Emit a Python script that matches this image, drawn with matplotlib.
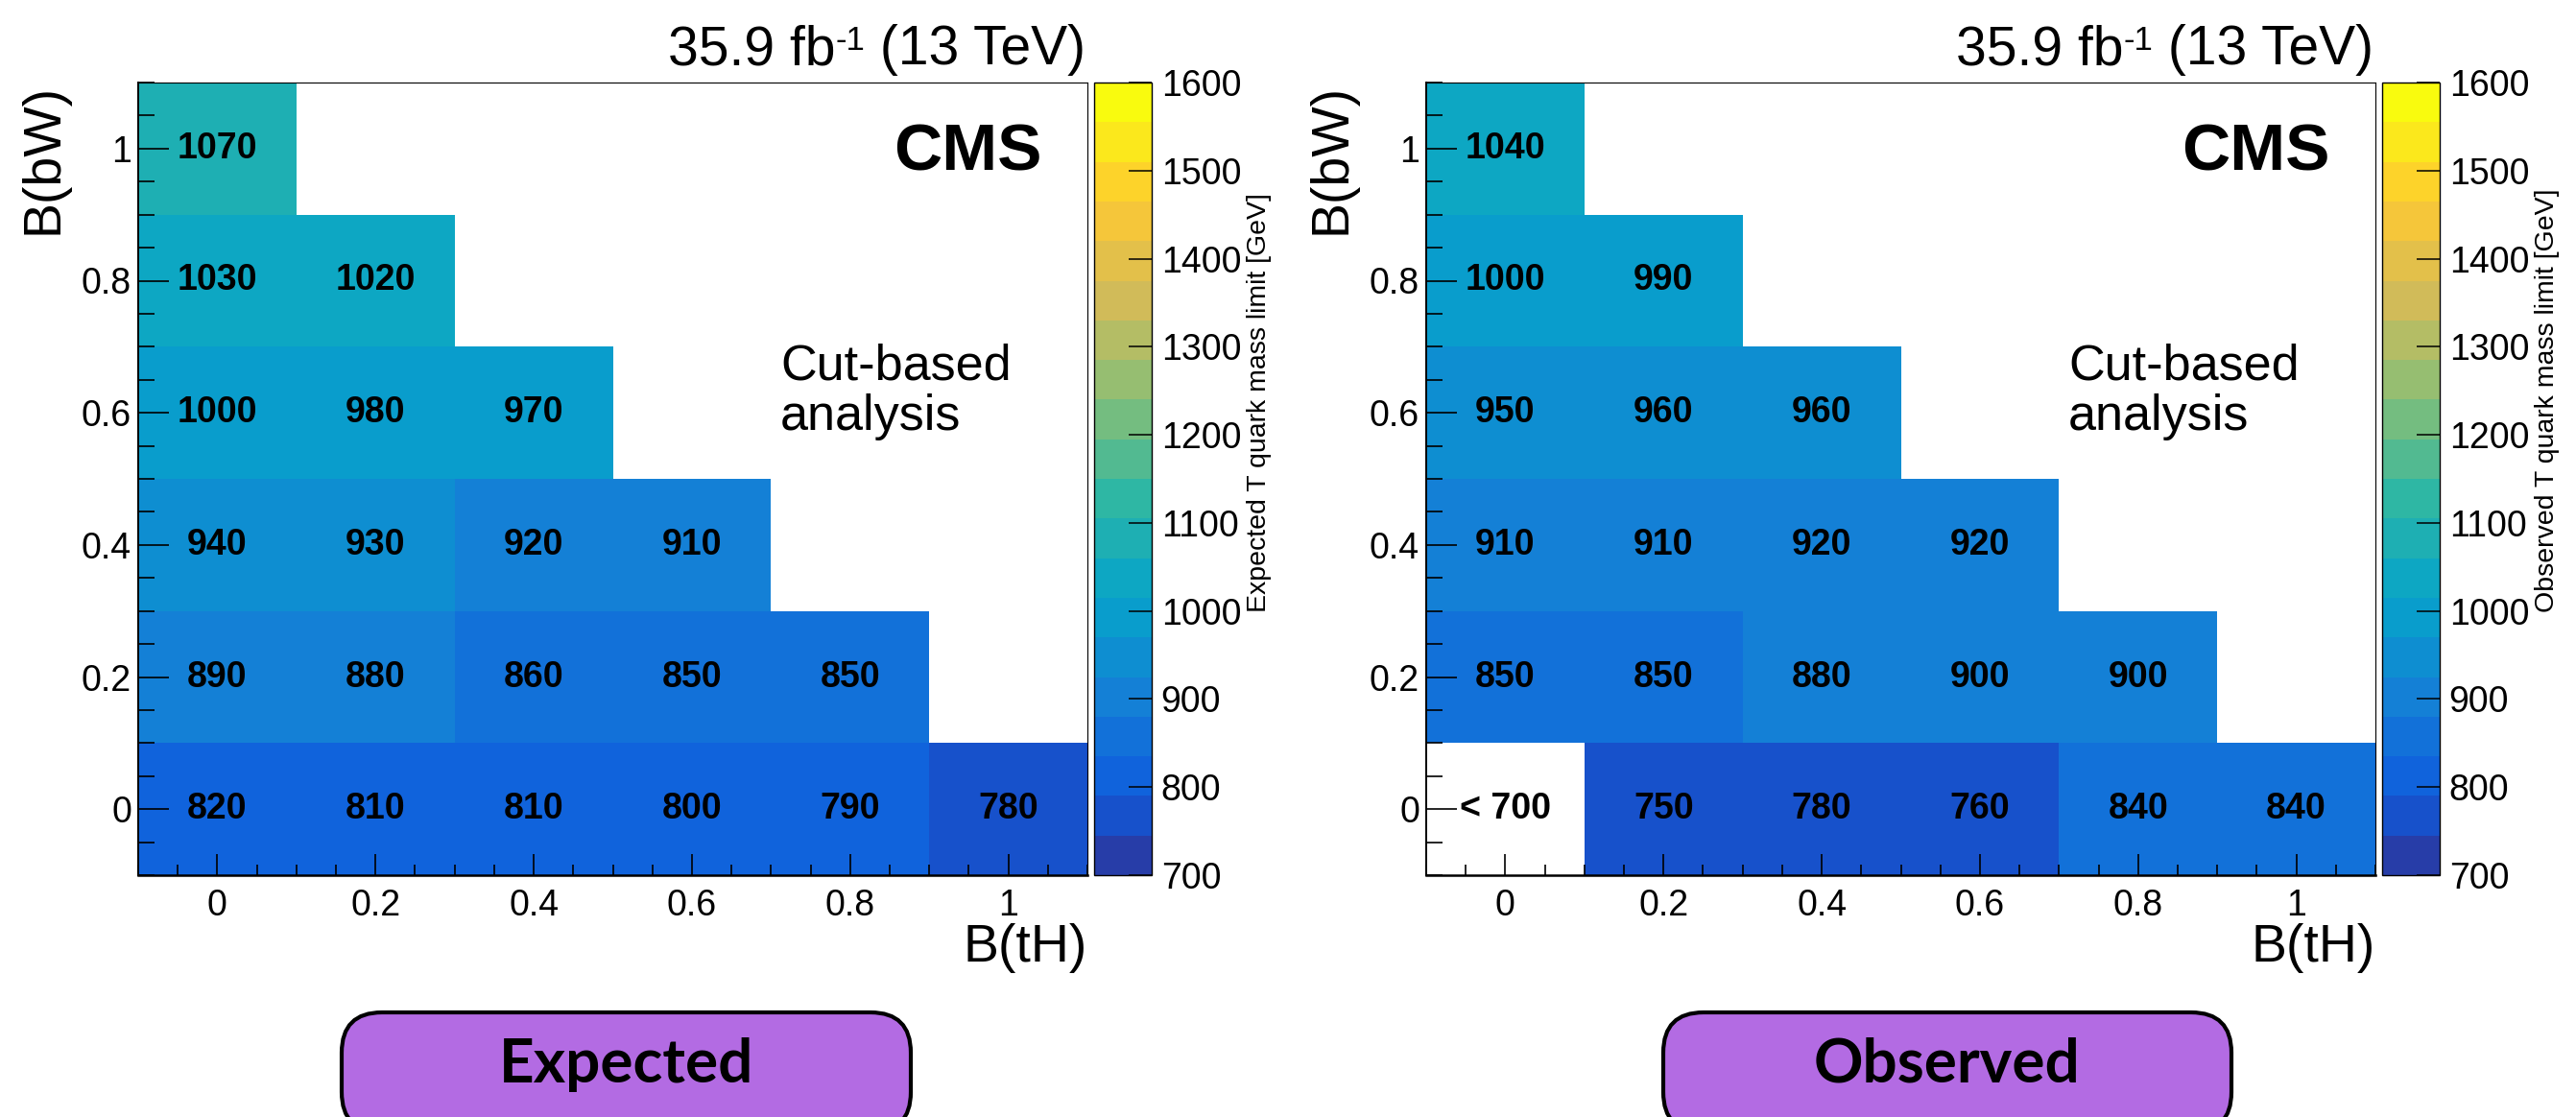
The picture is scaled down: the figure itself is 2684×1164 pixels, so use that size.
import numpy as np
import matplotlib
matplotlib.use("Agg")
import matplotlib.pyplot as plt
from matplotlib import font_manager
from matplotlib.colors import ListedColormap, BoundaryNorm, LinearSegmentedColormap
from matplotlib.cm import ScalarMappable
from matplotlib.patches import FancyBboxPatch
from matplotlib.ticker import FixedLocator, MultipleLocator

plt.rcParams["font.family"] = ["Liberation Sans", "DejaVu Sans"]

# ---- data -------------------------------------------------------------
B_TH = [0.0, 0.2, 0.4, 0.6, 0.8, 1.0]       # x axis: branching fraction to tH
B_BW = [0.0, 0.2, 0.4, 0.6, 0.8, 1.0]       # y axis: branching fraction to bW
TICK_LABELS = ["0", "0.2", "0.4", "0.6", "0.8", "1"]

# expected limits [GeV], one list per B(bW) row, ordered by B(tH)
EXP_BW_00 = [820, 810, 810, 800, 790, 780]
EXP_BW_02 = [890, 880, 860, 850, 850]
EXP_BW_04 = [940, 930, 920, 910]
EXP_BW_06 = [1000, 980, 970]
EXP_BW_08 = [1030, 1020]
EXP_BW_10 = [1070]

# observed limits [GeV]; None = below the lower edge of the scale
OBS_BW_00 = [None, 750, 780, 760, 840, 840]
OBS_BW_02 = [850, 850, 880, 900, 900]
OBS_BW_04 = [910, 910, 920, 920]
OBS_BW_06 = [950, 960, 960]
OBS_BW_08 = [1000, 990]
OBS_BW_10 = [1040]

Z_MIN, Z_MAX, N_CONTOURS = 700, 1600, 20
CBAR_TICKS = list(range(700, 1601, 100))

# ---- figure geometry (pixels) ------------------------------------------
W, H, DPI = 2684, 1164, 100
fig = plt.figure(figsize=(W / DPI, H / DPI), dpi=DPI)
renderer = fig.canvas.get_renderer()


def rect(x0, y0, x1, y1):
    return [x0 / W, 1 - y1 / H, (x1 - x0) / W, (y1 - y0) / H]


def fx(px):
    return px / W


def fy(py):
    return 1 - py / H


def narrow_family():
    for name in ["Liberation Sans Narrow", "Nimbus Sans Narrow", "Arial Narrow"]:
        try:
            font_manager.findfont(font_manager.FontProperties(family=name),
                                  fallback_to_default=False)
            return [name, "Liberation Sans"], 25
        except Exception:
            pass
    return ["Liberation Sans", "DejaVu Sans"], 20.5


NARROW, NARROW_SIZE = narrow_family()

# ---- ROOT "bird" palette, 20 contour bands -----------------------------
stops = [0.0, 0.125, 0.25, 0.375, 0.5, 0.625, 0.75, 0.875, 1.0]
red = [0.2082, 0.0592, 0.0780, 0.0232, 0.1802, 0.5301, 0.8186, 0.9956, 0.9764]
green = [0.1664, 0.3599, 0.5041, 0.6419, 0.7178, 0.7492, 0.7328, 0.7862, 0.9832]
blue = [0.5293, 0.8684, 0.8385, 0.7914, 0.6425, 0.4662, 0.3499, 0.1968, 0.0539]
bird = LinearSegmentedColormap.from_list(
    "bird", list(zip(stops, zip(red, green, blue))), N=255)
band_colors = [bird(int((i + 0.99) * 255 / N_CONTOURS)) for i in range(N_CONTOURS)]
cmap = ListedColormap(band_colors)
levels = np.linspace(Z_MIN, Z_MAX, N_CONTOURS + 1)
norm = BoundaryNorm(levels, N_CONTOURS)

# overlay in pixel coordinates for the labelled boxes
ov = fig.add_axes([0, 0, 1, 1], zorder=-1)
ov.set_xlim(0, W)
ov.set_ylim(H, 0)
ov.axis("off")


def lumi_label(x_right, baseline):
    """'35.9 fb^-1 (13 TeV)' right-aligned at x_right (pixels)."""
    t1 = fig.text(fx(x_right), fy(baseline), " (13 TeV)", fontsize=41,
                  ha="right", va="baseline")
    x1 = t1.get_window_extent(renderer).x0
    t2 = fig.text(x1 / W, fy(baseline - 15), "-1", fontsize=25,
                  ha="right", va="baseline")
    x2 = t2.get_window_extent(renderer).x0
    fig.text(x2 / W, fy(baseline), "35.9 fb", fontsize=41,
             ha="right", va="baseline")


def draw_panel(dx, rows, cbar_title, box_x0, box_x1, box_text):
    ax = fig.add_axes(rect(144 + dx, 86, 1133 + dx, 912))
    cax = fig.add_axes(rect(1140 + dx, 86, 1200 + dx, 912))

    Z = np.full((len(B_BW), len(B_TH)), np.nan)
    for j, row in enumerate(rows):
        for i, v in enumerate(row):
            if v is not None:
                Z[j, i] = v
    edges_x = np.concatenate([[B_TH[0] - 0.1], np.array(B_TH) + 0.1])
    edges_y = np.concatenate([[B_BW[0] - 0.1], np.array(B_BW) + 0.1])
    ax.pcolormesh(edges_x, edges_y, np.ma.masked_invalid(Z),
                  cmap=cmap, norm=norm, shading="flat", antialiased=False)

    for j, row in enumerate(rows):
        for i, v in enumerate(row):
            txt = f"< {Z_MIN}" if v is None else f"{v}"
            ax.text(B_TH[i], B_BW[j], txt, ha="center", va="center",
                    fontsize=27, fontweight="bold", color="black")

    ax.set_xlim(-0.1, 1.1)
    ax.set_ylim(-0.1, 1.1)
    ax.xaxis.set_major_locator(FixedLocator(B_TH))
    ax.yaxis.set_major_locator(FixedLocator(B_BW))
    ax.set_xticklabels(TICK_LABELS)
    ax.set_yticklabels(TICK_LABELS)
    ax.xaxis.set_minor_locator(MultipleLocator(0.05))
    ax.yaxis.set_minor_locator(MultipleLocator(0.05))
    ax.tick_params(axis="both", which="both", direction="in", top=False,
                   right=False, labelsize=27, width=1.2, color="black")
    ax.tick_params(axis="x", which="major", length=16, pad=10)
    ax.tick_params(axis="x", which="minor", length=8)
    ax.tick_params(axis="y", which="major", length=23, pad=5)
    ax.tick_params(axis="y", which="minor", length=12)
    ax.spines["left"].set_linewidth(1.4)
    ax.spines["bottom"].set_linewidth(1.8)
    ax.spines["top"].set_linewidth(0.8)
    ax.spines["right"].set_linewidth(0.8)

    cb = fig.colorbar(ScalarMappable(norm=norm, cmap=cmap), cax=cax,
                      ticks=CBAR_TICKS)
    cb.ax.minorticks_off()
    cb.ax.tick_params(direction="in", length=17, width=1.1, labelsize=27,
                      pad=7, right=True, left=False)
    cb.outline.set_linewidth(1.0)

    # labels and annotations
    lumi_label(1131 + dx, 67)
    fig.text(fx(1086 + dx), fy(178), "CMS", fontsize=50, fontweight="bold",
             ha="right", va="baseline")
    fig.text(fx(813 + dx), fy(395), "Cut-based", fontsize=37.5,
             ha="left", va="baseline")
    fig.text(fx(813 + dx), fy(448), "analysis", fontsize=37.5,
             ha="left", va="baseline")
    fig.text(fx(46 + dx), fy(87), "B(bW)", fontsize=40, rotation=90,
             ha="center", va="top")
    fig.text(fx(1133 + dx), fy(1002), "B(tH)", fontsize=40,
             ha="right", va="baseline")
    fig.text(fx(1312 + dx), fy(638), cbar_title, fontsize=NARROW_SIZE,
             family=NARROW, rotation=90, ha="center", va="bottom")

    box = FancyBboxPatch((box_x0, 1055), box_x1 - box_x0, 125,
                         boxstyle="round,pad=0,rounding_size=42",
                         facecolor="#B36BE3", edgecolor="black", linewidth=3.0)
    ov.add_patch(box)
    ov.text((box_x0 + box_x1) / 2, 1128, box_text, fontsize=46,
            fontweight="bold", family=["Lato", "DejaVu Sans"],
            ha="center", va="baseline")


draw_panel(0, [EXP_BW_00, EXP_BW_02, EXP_BW_04, EXP_BW_06, EXP_BW_08, EXP_BW_10],
           "Expected T quark mass limit [GeV]", 356, 949, "Expected")
draw_panel(1342, [OBS_BW_00, OBS_BW_02, OBS_BW_04, OBS_BW_06, OBS_BW_08, OBS_BW_10],
           "Observed T quark mass limit [GeV]", 1733, 2325, "Observed")

fig.savefig("out.png", dpi=DPI)
